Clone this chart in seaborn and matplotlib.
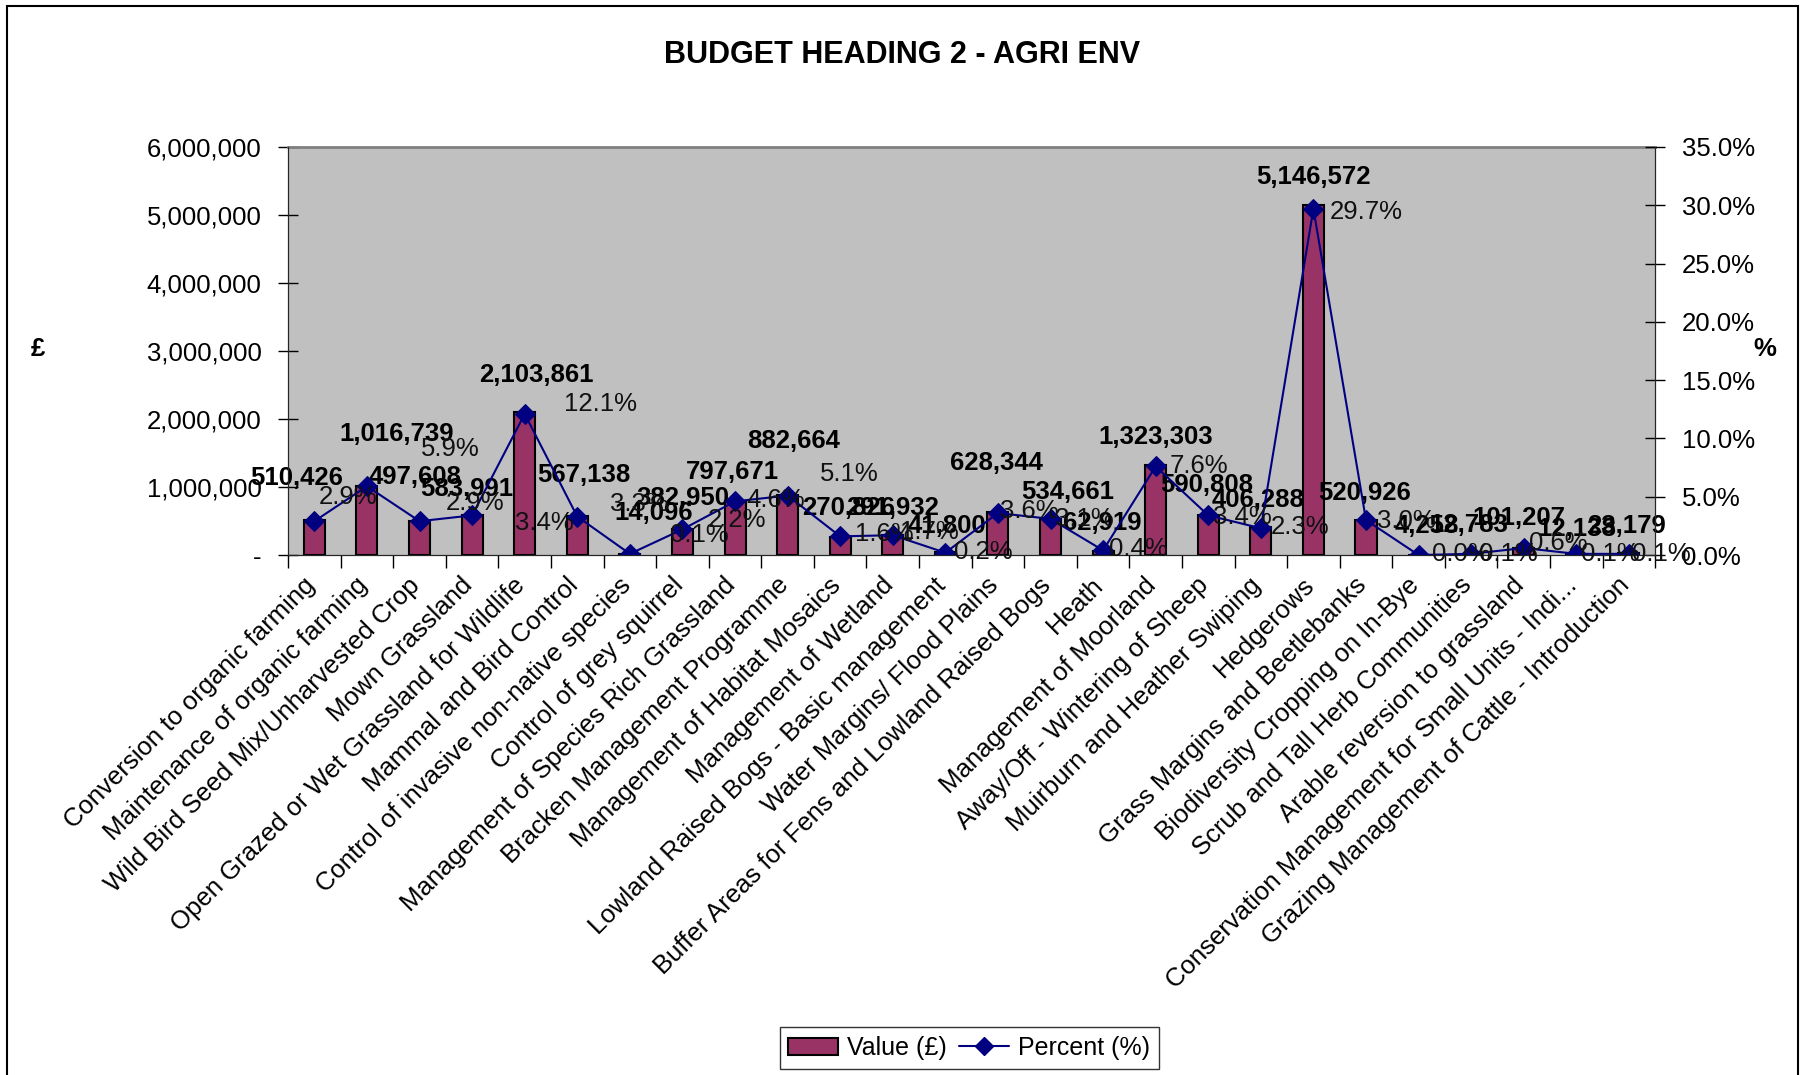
import numpy as np
import pandas as pd
from matplotlib import pyplot as plt
from matplotlib.lines import Line2D
from matplotlib.patches import Patch, Rectangle
from matplotlib.ticker import FuncFormatter, MultipleLocator
import seaborn as sns

categories = [
    "Conversion to organic farming",
    "Maintenance of organic farming",
    "Wild Bird Seed Mix/Unharvested Crop",
    "Mown Grassland",
    "Open Grazed or Wet Grassland for Wildlife",
    "Mammal and Bird Control",
    "Control of invasive non-native species",
    "Control of grey squirrel",
    "Management of Species Rich Grassland",
    "Bracken Management Programme",
    "Management of Habitat Mosaics",
    "Management of Wetland",
    "Lowland Raised Bogs - Basic management",
    "Water Margins/ Flood Plains",
    "Buffer Areas for Fens and Lowland Raised Bogs",
    "Heath",
    "Management of Moorland",
    "Away/Off - Wintering of Sheep",
    "Muirburn and Heather Swiping",
    "Hedgerows",
    "Grass Margins and Beetlebanks",
    "Biodiversity Cropping on In-Bye",
    "Scrub and Tall Herb Communities",
    "Arable reversion to grassland",
    "Conservation Management for Small Units - Indi...",
    "Grazing Management of Cattle - Introduction",
]
values = [510426, 1016739, 497608, 583991, 2103861, 567138, 14096, 382950,
          797671, 882664, 270826, 291932, 41800, 628344, 534661, 62919,
          1323303, 590808, 406288, 5146572, 520926, 4258, 12783, 101207,
          12138, 23179]
percents = [2.9, 5.9, 2.9, 3.4, 12.1, 3.3, 0.1, 2.2, 4.6, 5.1, 1.6, 1.7, 0.2,
            3.6, 3.1, 0.4, 7.6, 3.4, 2.3, 29.7, 3.0, 0.0, 0.1, 0.6, 0.1, 0.1]

# label offsets (pixels of the reference), converted to points below
val_dx = [-15, 26, -4, -5, 10, 6, 21, 0, -2, 5, 7, 0, 1, -1, 15, -1, 0, -1, -2, 0, -1, 7, -2, -4, 0, -2]
val_dy = [37, 45, 38, 23, 32, 36, 36, 27, 25, 47, 25, 24, 23, 43, 23, 24, 24, 26, 24, 24, 23, 25, 25, 26, 22, 24]
pct_dx = [29, 72, 48, 63, 66, 54, 60, 47, 35, 54, 38, 32, 33, 27, 29, 31, 38, 30, 34, 46, 35, 37, 32, 30, 30, 28]
pct_dy = [21, 32, 16, -7, 9, 11, 16, 8, 1, 19, 2, 3, 1, 2, 0, 1, 0, -1, 1, -3, -1, 1, 0, 4, 0, 0]
OFF = 1.151 * 0.72

BAR_COLOR = "#993366"
LINE_COLOR = "#000080"
BG = "#C0C0C0"
FS = 18.5

sns.set_style("ticks")
plt.rcParams['font.family'] = ['Liberation Sans', 'DejaVu Sans']
plt.rcParams.update({"text.color": "black", "xtick.color": "black",
                     "ytick.color": "black", "axes.labelcolor": "black"})

df = pd.DataFrame({"pos": np.arange(len(categories)), "value": values, "pct": percents})

fig = plt.figure(figsize=(18.05, 10.75), dpi=100)
ax = fig.add_axes([0.1596, 0.4837, 0.917 - 0.1596, 0.8633 - 0.4837])
ax.set_facecolor(BG)

sns.barplot(data=df, x="pos", y="value", color=BAR_COLOR, width=0.4,
            edgecolor="black", linewidth=1.5, saturation=1, ax=ax)
ax.set_ylim(0, 6000000)
ax.set_xlim(-0.5, len(categories) - 0.5)
ax.yaxis.set_major_locator(MultipleLocator(1000000))
ax.yaxis.set_major_formatter(FuncFormatter(lambda v, p: "-" if v == 0 else f"{v:,.0f}"))
# label anchors slightly left of the bar centre, as in the original
ax.set_xticks(np.arange(len(categories)) - 0.22)
ax.set_xticklabels(categories, rotation=45, ha="right", rotation_mode="anchor", fontsize=FS)
ax.set_xticks(np.arange(len(categories) + 1) - 0.5, minor=True)
ax.tick_params(axis="x", which="major", length=0, pad=13)
ax.tick_params(axis="x", which="minor", length=9, direction="out", width=1)
ax.tick_params(axis="y", labelsize=FS, direction="inout", length=14, width=1, pad=12)
ax.set_xlabel("")
ax.set_ylabel("")
for s in ["left", "bottom", "right"]:
    ax.spines[s].set_color("black")
ax.spines["top"].set_color("#808080")
ax.spines["top"].set_linewidth(2)

ax2 = ax.twinx()
sns.lineplot(data=df, x="pos", y="pct", color=LINE_COLOR, marker="D", markersize=10,
             markeredgecolor=LINE_COLOR, linewidth=1.5, ax=ax2)
ax2.set_ylim(0, 35)
ax2.set_xlim(-0.5, len(categories) - 0.5)
ax2.yaxis.set_major_locator(MultipleLocator(5))
ax2.yaxis.set_major_formatter(FuncFormatter(lambda v, p: f"{v:.1f}%"))
ax2.tick_params(axis="y", labelsize=FS, direction="inout", length=14, width=1, pad=12)
ax2.set_ylabel("")
ax2.set_xlabel("")
ax2.spines["top"].set_visible(False)

for i, (v, p) in enumerate(zip(values, percents)):
    ax.annotate(f"{v:,}", (i, v), xytext=(val_dx[i] * OFF, val_dy[i] * OFF),
                textcoords="offset points", ha="center", va="center",
                fontsize=FS, fontweight="bold", zorder=5)
    ax2.annotate(f"{p:.1f}%", (i, p), xytext=(pct_dx[i] * OFF, pct_dy[i] * OFF),
                 textcoords="offset points", ha="center", va="center",
                 fontsize=FS, color="#111111", zorder=5)

fig.text(0.5, 0.949, "BUDGET HEADING 2 - AGRI ENV", ha="center", va="center",
         fontsize=22, fontweight="bold")
fig.text(0.021, 0.675, "£", ha="center", va="center", fontsize=FS, fontweight="bold")
fig.text(0.978, 0.675, "%", ha="center", va="center", fontsize=FS, fontweight="bold")

handles = [Patch(facecolor=BAR_COLOR, edgecolor="black", linewidth=1.5),
           Line2D([], [], color=LINE_COLOR, marker="D", markersize=9, linewidth=1.5)]
leg = fig.legend(handles, ["Value (£)", "Percent (%)"], loc="center",
                 bbox_to_anchor=(0.537, 0.025), ncol=2, fontsize=18, frameon=True,
                 fancybox=False, edgecolor="black", handlelength=2.0,
                 columnspacing=0.5, handletextpad=0.35, borderpad=0.35)
leg.get_frame().set_linewidth(1)

fig.add_artist(Rectangle((0.004, -0.01), 0.992, 1.004, transform=fig.transFigure,
                         fill=False, edgecolor="black", linewidth=1.5))

fig.savefig("out.png", dpi=100, facecolor="white")
